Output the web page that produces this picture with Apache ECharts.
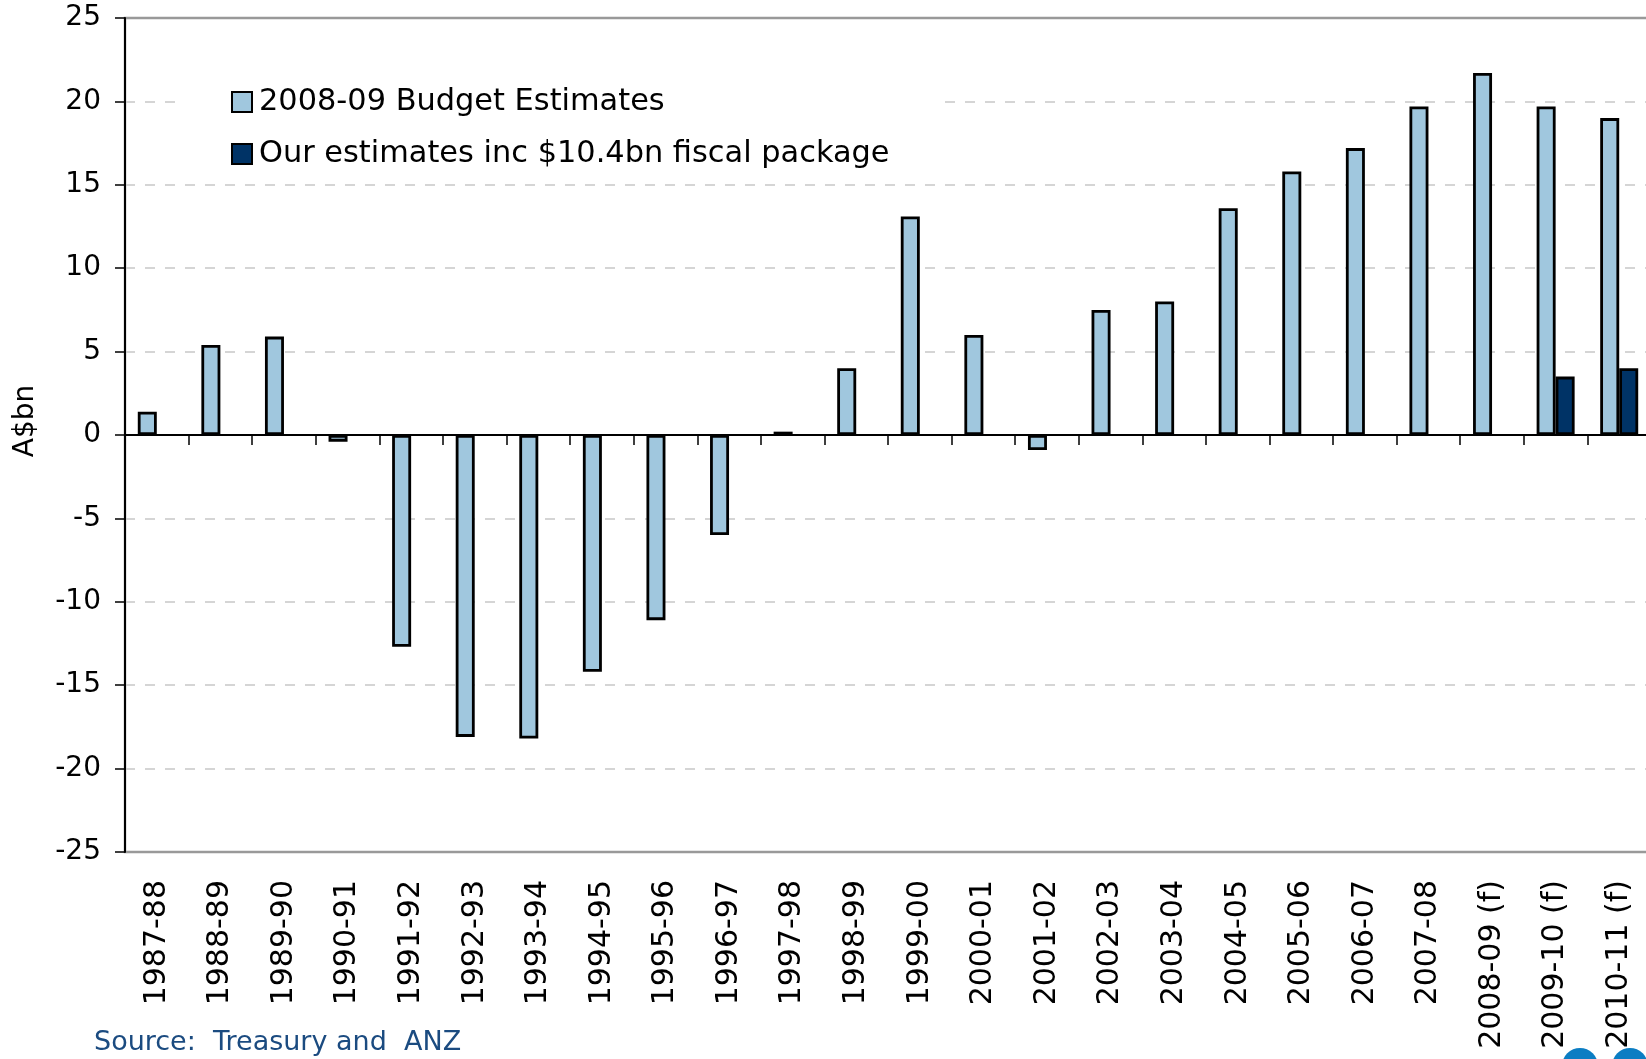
<!DOCTYPE html>
<html>
<head>
<meta charset="utf-8">
<script src="https://cdn.jsdelivr.net/npm/echarts@6/dist/echarts.min.js"></script>
<style>
html,body{margin:0;padding:0;background:#fff;}
#chart{width:1646px;height:1059px;}
</style>
</head>
<body>
<div id="chart"></div>
<script>
const categories = ['1987-88','1988-89','1989-90','1990-91','1991-92','1992-93','1993-94','1994-95','1995-96','1996-97','1997-98','1998-99','1999-00','2000-01','2001-02','2002-03','2003-04','2004-05','2005-06','2006-07','2007-08','2008-09 (f)','2009-10 (f)','2010-11 (f)'];
const budgetEstimates = [1.4, 5.4, 5.9, -0.4, -12.7, -18.1, -18.2, -14.2, -11.1, -6.0, 0.2, 4.0, 13.1, 6.0, -0.9, 7.5, 8.0, 13.6, 15.8, 17.2, 19.7, 21.7, 19.7, 19.0];
const ourEstimates = [null, null, null, null, null, null, null, null, null, null, null, null, null, null, null, null, null, null, null, null, null, null, 3.5, 4.0];
const yTicks = {min: -25, max: 25, interval: 5};
const seriesNames = ['2008-09 Budget Estimates', 'Our estimates inc $10.4bn fiscal package'];

const chart = echarts.init(document.getElementById('chart'));
chart.setOption({
  animation: false,
  backgroundColor: '#fff',
  grid: {
    left: 125, right: -5, top: 18, bottom: 207,
    show: true, borderColor: '#999', borderWidth: 2.5, backgroundColor: 'transparent',
    containLabel: false, outerBoundsMode: 'none'
  },
  legend: {
    orient: 'vertical',
    left: 181, top: 72,
    padding: [15, 50, 15, 50],
    backgroundColor: '#fff',
    itemWidth: 20, itemHeight: 20, itemGap: 22,
    icon: 'rect',
    itemStyle: {borderColor: '#000', borderWidth: 2},
    textStyle: {fontFamily: 'DejaVu Sans', fontSize: 30.4, color: '#000', padding: [0,0,0,2]},
    data: seriesNames
  },
  xAxis: [
    {
      type: 'category', data: categories, position: 'bottom',
      axisLine: {show: false, onZero: false}, axisTick: {show: false},
      axisLabel: {rotate: 90, margin: 28, fontFamily: 'DejaVu Sans', fontSize: 30, color: '#000', interval: 0}
    },
    {
      type: 'category', data: categories, position: 'top',
      axisLine: {show: true, onZero: true, lineStyle: {color: '#000', width: 2}},
      axisTick: {show: true, inside: true, length: 10, lineStyle: {color: '#000', width: 1.5}, interval: 0},
      axisLabel: {show: false}
    }
  ],
  yAxis: {
    type: 'value', min: yTicks.min, max: yTicks.max, interval: yTicks.interval,
    name: 'A$bn', nameLocation: 'middle', nameGap: 85,
    nameTextStyle: {fontFamily: 'DejaVu Sans', fontSize: 28, color: '#000', padding: [0,0,0,28]},
    axisLine: {show: true, lineStyle: {color: '#000', width: 2}},
    axisTick: {show: true, length: 10, lineStyle: {color: '#000', width: 1.5}},
    axisLabel: {margin: 24, fontFamily: 'DejaVu Sans', fontSize: 28, color: '#000'},
    splitLine: {show: true, showMinLine: false, showMaxLine: false, lineStyle: {color: '#c8c8c8', width: 1.5, type: [10, 10]}}
  },
  series: [
    {
      name: seriesNames[0], type: 'bar', xAxisIndex: 0, data: budgetEstimates,
      barWidth: 19, barGap: '0%',
      itemStyle: {color: '#A0C7DE', borderColor: '#000', borderWidth: 2.8}
    },
    {
      name: seriesNames[1], type: 'bar', xAxisIndex: 0, data: ourEstimates,
      barWidth: 19, barGap: '0%',
      itemStyle: {color: '#003366', borderColor: '#000', borderWidth: 2.8}
    }
  ],
  graphic: [
    {type: 'text', left: 94, top: 1029, style: {text: 'Source:  Treasury and  ANZ', font: '27px "DejaVu Sans"', fill: '#1B4B80'}},
    {type: 'circle', shape: {cx: 1580, cy: 1066, r: 18}, style: {fill: '#0B7DC3'}, z: -1},
    {type: 'circle', shape: {cx: 1630, cy: 1066, r: 18}, style: {fill: '#0B7DC3'}, z: -1}
  ]
});
</script>
</body>
</html>
